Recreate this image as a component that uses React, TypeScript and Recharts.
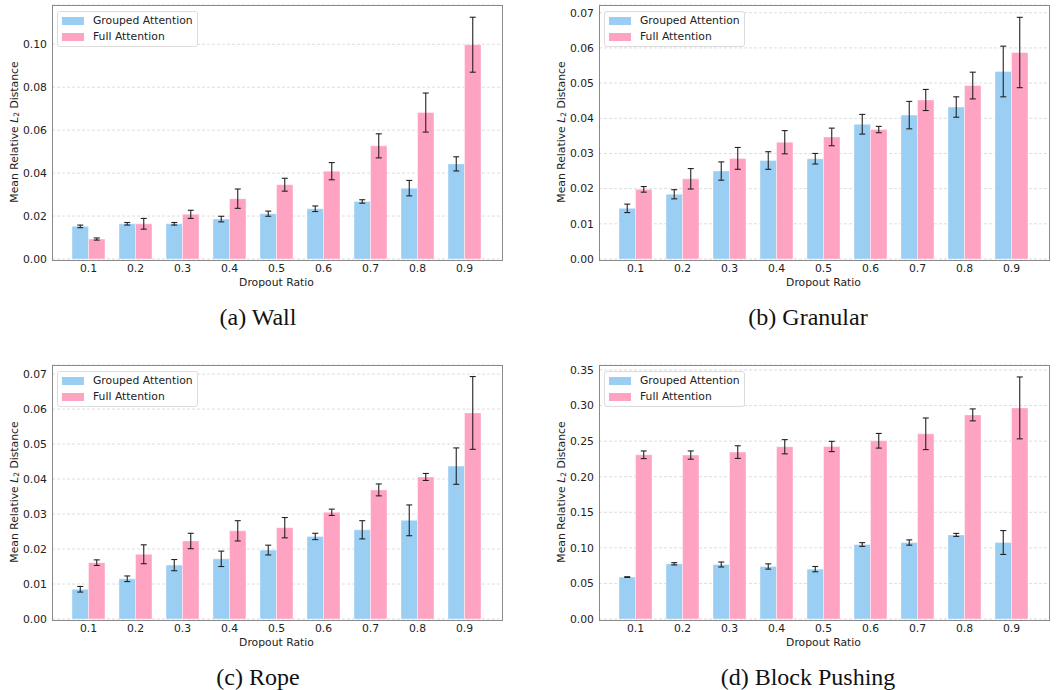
import React from "react";
import { Bar, BarChart, CartesianGrid, ErrorBar, Label, XAxis, YAxis } from "recharts";

const ratios = ["0.1", "0.2", "0.3", "0.4", "0.5", "0.6", "0.7", "0.8", "0.9"];

// (a) Wall
const wallGrouped = [0.0152, 0.0164, 0.0164, 0.0186, 0.0211, 0.0234, 0.0268, 0.033, 0.0443];
const wallGroupedErr = [0.0006, 0.0006, 0.0006, 0.0013, 0.0012, 0.0013, 0.0008, 0.0036, 0.0033];
const wallFull = [0.0093, 0.0164, 0.0208, 0.0281, 0.0346, 0.0409, 0.0527, 0.0682, 0.0998];
const wallFullErr = [0.0005, 0.0025, 0.0019, 0.0045, 0.003, 0.004, 0.0056, 0.0091, 0.0128];

// (b) Granular
const granularGrouped = [0.0144, 0.0184, 0.025, 0.028, 0.0285, 0.0383, 0.0409, 0.0432, 0.0533];
const granularGroupedErr = [0.0012, 0.0013, 0.0026, 0.0025, 0.0015, 0.0028, 0.0039, 0.0029, 0.0072];
const granularFull = [0.0198, 0.0228, 0.0286, 0.0332, 0.0347, 0.0368, 0.0452, 0.0493, 0.0587];
const granularFullErr = [0.0008, 0.0029, 0.0031, 0.0033, 0.0025, 0.0009, 0.003, 0.0038, 0.01];

// (c) Rope
const ropeGrouped = [0.0085, 0.0115, 0.0154, 0.0172, 0.0197, 0.0236, 0.0255, 0.0282, 0.0437];
const ropeGroupedErr = [0.0008, 0.0008, 0.0016, 0.0022, 0.0014, 0.0009, 0.0026, 0.0044, 0.0052];
const ropeFull = [0.0161, 0.0185, 0.0223, 0.0252, 0.0261, 0.0305, 0.0369, 0.0406, 0.0589];
const ropeFullErr = [0.0008, 0.0027, 0.0022, 0.0029, 0.0029, 0.0009, 0.0017, 0.001, 0.0104];

// (d) Block Pushing
const pushGrouped = [0.0589, 0.0776, 0.0766, 0.0738, 0.0701, 0.1047, 0.1075, 0.1182, 0.1075];
const pushGroupedErr = [0.0005, 0.0016, 0.0035, 0.0037, 0.0037, 0.0026, 0.0037, 0.0021, 0.0168];
const pushFull = [0.2308, 0.2304, 0.2346, 0.2421, 0.2425, 0.2505, 0.2603, 0.2869, 0.2967];
const pushFullErr = [0.0054, 0.0058, 0.0089, 0.01, 0.0072, 0.0103, 0.0222, 0.0084, 0.0435];

const wallTicks = [0, 0.02, 0.04, 0.06, 0.08, 0.1];
const smallTicks = [0, 0.01, 0.02, 0.03, 0.04, 0.05, 0.06, 0.07];
const pushTicks = [0, 0.05, 0.1, 0.15, 0.2, 0.25, 0.3, 0.35];

const BLUE = "#9ACEF3";
const PINK = "#FFA3C3";
const SPINE = "#8a8a8a";
const FONT = "DejaVu Sans, sans-serif";
const FS = 10.8;

function rows(g: number[], ge: number[], f: number[], fe: number[]) {
  return ratios.map((ratio, i) => ({ ratio, grouped: g[i], groupedErr: ge[i], full: f[i], fullErr: fe[i] }));
}

function YLabel(props: any) {
  const vb = props.viewBox;
  const cx = vb.x + vb.width - 38;
  const cy = vb.y + vb.height / 2;
  return (
    <text
      x={cx}
      y={cy}
      transform={`rotate(-90, ${cx}, ${cy})`}
      textAnchor="middle"
      dominantBaseline="central"
      fontFamily={FONT}
      fontSize={FS}
      fill="#222"
    >
      <tspan>Mean Relative </tspan>
      <tspan fontStyle="italic">L</tspan>
      <tspan fontSize={7.5} dy={2}>2</tspan>
      <tspan dy={-2}> Distance</tspan>
    </text>
  );
}

function XLabel(props: any) {
  const vb = props.viewBox;
  return (
    <text x={vb.x + vb.width / 2} y={vb.y + 27} textAnchor="middle" fontFamily={FONT} fontSize={FS} fill="#222">
      Dropout Ratio
    </text>
  );
}

function LegendBox() {
  const item = (color: string, text: string) => (
    <div style={{ display: "flex", alignItems: "center", height: 16 }}>
      <div style={{ width: 22, height: 8, background: color, marginRight: 9 }} />
      <span>{text}</span>
    </div>
  );
  return (
    <div
      style={{
        position: "absolute",
        left: 57,
        top: 11,
        width: 135,
        padding: "1px 0 1px 4px",
        background: "rgba(255,255,255,0.85)",
        border: "1px solid #dcdcdc",
        borderRadius: 3,
        fontFamily: FONT,
        fontSize: FS,
        color: "#222",
        lineHeight: "16px",
      }}
    >
      {item(BLUE, "Grouped Attention")}
      {item(PINK, "Full Attention")}
    </div>
  );
}

interface PanelProps {
  left: number;
  top: number;
  width: number;
  data: ReturnType<typeof rows>;
  yMax: number;
  ticks: number[];
  caption: string;
  captionX: number;
}

function Panel({ left, top, width, data, yMax, ticks, caption, captionX }: PanelProps) {
  const plotW = 449;
  return (
    <>
      <div style={{ position: "absolute", left, top, width, height: 300 }}>
        <BarChart width={width} height={300} data={data} margin={{ top: 5, right: width - 52 - plotW, left: 0, bottom: 11 }} barGap={0} barSize={16.5}>
          <CartesianGrid vertical={false} stroke="#dedede" strokeDasharray="3 2" />
          <XAxis
            dataKey="ratio"
            height={30}
            padding={{ left: 13, right: 13 }}
            tickLine={false}
            tickSize={0}
            tickMargin={5}
            axisLine={false}
            tick={{ fill: "#222", fontFamily: FONT, fontSize: FS }}
          >
            <Label content={<XLabel />} />
          </XAxis>
          <YAxis
            width={52}
            domain={[0, yMax]}
            ticks={ticks}
            allowDataOverflow
            tickLine={false}
            tickSize={0}
            tickMargin={5}
            axisLine={false}
            tickFormatter={(v: number) => v.toFixed(2)}
            tick={{ fill: "#222", fontFamily: FONT, fontSize: FS }}
          >
            <Label content={<YLabel />} />
          </YAxis>
          <Bar dataKey="grouped" fill={BLUE} stroke="#ffffff" strokeOpacity={0.5} strokeWidth={0.8} isAnimationActive={false}>
            <ErrorBar dataKey="groupedErr" width={3} stroke="#222" strokeWidth={1.1} direction="y" />
          </Bar>
          <Bar dataKey="full" fill={PINK} stroke="#ffffff" strokeOpacity={0.5} strokeWidth={0.8} isAnimationActive={false}>
            <ErrorBar dataKey="fullErr" width={3} stroke="#222" strokeWidth={1.1} direction="y" />
          </Bar>
        </BarChart>
        {/* axes frame (all four spines) */}
        <div
          style={{
            position: "absolute",
            left: 51.5,
            top: 4.5,
            width: plotW,
            height: 254,
            border: `1px solid ${SPINE}`,
            pointerEvents: "none",
          }}
        />
        <LegendBox />
      </div>
      <div
        style={{
          position: "absolute",
          left: captionX - 200,
          top: top + 305,
          width: 400,
          textAlign: "center",
          fontFamily: "'Liberation Serif', 'Times New Roman', serif",
          fontSize: 24,
          lineHeight: 1,
          color: "#111",
        }}
      >
        {caption}
      </div>
    </>
  );
}

export default function App() {
  return (
    <div style={{ position: "absolute", left: 0, top: 0, width: 1063, height: 690, background: "#fff" }}>
      <Panel left={0} top={0} width={510} data={rows(wallGrouped, wallGroupedErr, wallFull, wallFullErr)} yMax={0.1183} ticks={wallTicks} caption="(a) Wall" captionX={258} />
      <Panel left={547} top={0} width={510} data={rows(granularGrouped, granularGroupedErr, granularFull, granularFullErr)} yMax={0.0722} ticks={smallTicks} caption="(b) Granular" captionX={808} />
      <Panel left={0} top={360} width={510} data={rows(ropeGrouped, ropeGroupedErr, ropeFull, ropeFullErr)} yMax={0.0726} ticks={smallTicks} caption="(c) Rope" captionX={258} />
      <Panel left={547} top={360} width={510} data={rows(pushGrouped, pushGroupedErr, pushFull, pushFullErr)} yMax={0.357} ticks={pushTicks} caption="(d) Block Pushing" captionX={808} />
    </div>
  );
}
